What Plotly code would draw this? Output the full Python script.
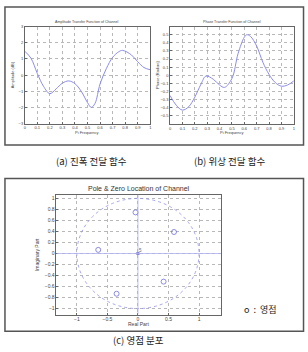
import plotly.graph_objects as go

W, H = 308, 352

# ---- data ----
amp_freq = [0, 0.05, 0.1, 0.15, 0.2, 0.25, 0.3, 0.35, 0.4, 0.45, 0.5, 0.53, 0.56, 0.6, 0.65, 0.7, 0.75, 0.78, 0.85, 0.9, 0.95, 1.0]
amp_db = [1.48, 1.04, 0.1, -0.7, -1.15, -0.85, -0.5, -0.36, -0.53, -1.0, -1.7, -2.0, -1.75, -0.55, 0.4, 1.1, 1.45, 1.53, 1.25, 0.83, 0.47, 0.33]

phase_freq = [0, 0.05, 0.1, 0.15, 0.2, 0.25, 0.29, 0.35, 0.4, 0.44, 0.5, 0.55, 0.6, 0.62, 0.65, 0.7, 0.75, 0.8, 0.85, 0.9, 0.95, 1.0]
phase_rad = [-0.25, -0.37, -0.43, -0.39, -0.27, -0.11, -0.01, -0.05, -0.12, -0.15, -0.04, 0.27, 0.47, 0.5, 0.48, 0.36, 0.16, 0.01, -0.09, -0.135, -0.12, -0.07]

zero_re = [-0.04, 0.59, -0.65, -0.35, 0.42]
zero_im = [0.746, 0.39, 0.066, -0.73, -0.51]
pole_re = [0.0]
pole_im = [0.0]
pole_count = "5"

freq_ticks = [0, 0.1, 0.2, 0.3, 0.4, 0.5, 0.6, 0.7, 0.8, 0.9, 1]
freq_labels = ["0", "0.1", "0.2", "0.3", "0.4", "0.5", "0.6", "0.7", "0.8", "0.9", "1"]
amp_ticks = [-3, -2, -1, 0, 1, 2, 3]
phase_ticks = [-0.5, -0.4, -0.3, -0.2, -0.1, 0, 0.1, 0.2, 0.3, 0.4, 0.5]
pz_xticks = [-1, -0.5, 0, 0.5, 1]
pz_yticks = [-1, -0.8, -0.6, -0.4, -0.2, 0, 0.2, 0.4, 0.6, 0.8, 1]


def px(x):
    return x / W


def py(y):
    return 1 - y / H


LINE = "#8c8ce6"
GRID = "#b8b8b8"
AX = "#666666"
FONT = "Liberation Sans"
KFONT = "Noto Sans CJK KR"

fig = go.Figure()
fig.add_trace(go.Scatter(x=amp_freq, y=amp_db, mode="lines", line=dict(color=LINE, width=1, shape="spline", smoothing=1.0),
                         xaxis="x", yaxis="y", showlegend=False))
fig.add_trace(go.Scatter(x=phase_freq, y=phase_rad, mode="lines", line=dict(color=LINE, width=1, shape="spline", smoothing=1.0),
                         xaxis="x2", yaxis="y2", showlegend=False))
fig.add_trace(go.Scatter(x=zero_re, y=zero_im, mode="markers",
                         marker=dict(symbol="circle-open", size=5, color="#7070d8", line=dict(width=0.8)),
                         xaxis="x3", yaxis="y3", showlegend=False))
fig.add_trace(go.Scatter(x=pole_re, y=pole_im, mode="markers",
                         marker=dict(symbol="square", size=3, color="#7070d8"),
                         xaxis="x3", yaxis="y3", showlegend=False))

common = dict(showline=True, mirror=True, linecolor=AX, linewidth=0.7, ticks="inside", ticklen=2,
              tickcolor=AX, tickwidth=0.6, showgrid=True, gridcolor=GRID, griddash="dot", gridwidth=0.5, zeroline=False)

fig.update_layout(
    width=W, height=H, margin=dict(l=0, r=0, t=0, b=0),
    paper_bgcolor="white", plot_bgcolor="white",
    font=dict(family=FONT, color="#444"),
    xaxis=dict(domain=[px(24), px(150.7)], range=[0, 1], tickvals=freq_ticks, ticktext=freq_labels,
               tickfont=dict(size=4), anchor="y", **common),
    yaxis=dict(domain=[py(122.3), py(24)], range=[-3, 3], tickvals=amp_ticks,
               tickfont=dict(size=4), anchor="x", **common),
    xaxis2=dict(domain=[px(170.7), px(295.7)], range=[0, 1], tickvals=freq_ticks, ticktext=freq_labels,
                tickfont=dict(size=4), anchor="y2", **common),
    yaxis2=dict(domain=[py(122.6), py(24)], range=[-0.6, 0.6], tickvals=phase_ticks,
                tickfont=dict(size=4), anchor="x2", **common),
    xaxis3=dict(domain=[px(56), px(222)], range=[-1.334, 1.357], tickvals=pz_xticks,
                tickfont=dict(size=5), anchor="y3", **common),
    yaxis3=dict(domain=[py(316), py(194.3)], range=[-1.107, 1.07], tickvals=pz_yticks,
                tickfont=dict(size=5), anchor="x3", **common),
)

shapes = []
# frames
shapes.append(dict(type="rect", xref="paper", yref="paper", x0=px(4), x1=px(305.5), y0=py(144), y1=py(4),
                   line=dict(color="#555", width=1.5)))
shapes.append(dict(type="rect", xref="paper", yref="paper", x0=px(4), x1=px(305.5), y0=py(333), y1=py(178),
                   line=dict(color="#555", width=1.5)))
# unit circle and axes in pole-zero plot
shapes.append(dict(type="circle", xref="x3", yref="y3", x0=-1, y0=-1, x1=1, y1=1,
                   line=dict(color="#9090e6", width=0.8, dash="dot")))
shapes.append(dict(type="line", xref="x3", yref="y3", x0=-1.334, x1=1.357, y0=0, y1=0,
                   line=dict(color="#b0b0f0", width=0.8)))
shapes.append(dict(type="line", xref="x3", yref="y3", x0=0, x1=0, y0=-1.107, y1=1.07,
                   line=dict(color="#b0b0f0", width=0.8)))
fig.update_layout(shapes=shapes)

ann = []


def txt(x, y, s, size, font=FONT, angle=0, color="#444"):
    ann.append(dict(x=px(x), y=py(y), xref="paper", yref="paper", text=s, showarrow=False,
                    font=dict(size=size, family=font, color=color), textangle=angle,
                    xanchor="center", yanchor="middle"))


txt(87, 19.5, "Amplitude Transfer Function of Channel", 3.6)
txt(233, 19.5, "Phase Transfer Function of Channel", 3.6)
txt(87, 131.5, "Pi Frequency", 4)
txt(233, 131.5, "Pi Frequency", 4)
txt(12.5, 73, "Amplitude (dB)", 4, angle=-90)
txt(158.5, 73, "Phase (Radian)", 4, angle=-90)
txt(139, 188, "Pole &amp; Zero Location of Channel", 7, color="#333")
txt(139, 326, "Real Part", 5)
txt(37, 255, "Imaginary Part", 5, angle=-90)
txt(141, 251.5, pole_count, 4.5, color="#666")
txt(91, 160.5, "(a) 진폭 전달 함수", 9.5, font=KFONT, color="#222")
txt(231, 160.5, "(b) 위상 전달 함수", 9.5, font=KFONT, color="#222")
txt(138.5, 342, "(c) 영점 분포", 9.5, font=KFONT, color="#222")
txt(262, 311, "o  :  영점", 9, font=KFONT, color="#222")
fig.update_layout(annotations=ann)

fig.write_html("out.html")
